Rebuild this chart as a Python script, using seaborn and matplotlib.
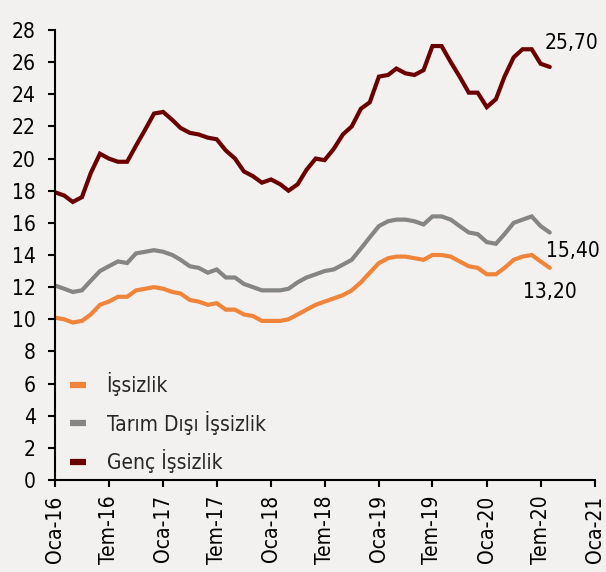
import pandas as pd
import matplotlib
matplotlib.use("Agg")
import matplotlib.pyplot as plt
import seaborn as sns

# ----------------------------
# Data (monthly, Jan 2016 - Aug 2020)
# ----------------------------
start_month = "2016-01-01"

issizlik = [10.1, 10.0, 9.8, 9.9, 10.3, 10.9, 11.1, 11.4, 11.4, 11.8, 11.9, 12.0,
            11.9, 11.7, 11.6, 11.2, 11.1, 10.9, 11.0, 10.6, 10.6, 10.3, 10.2, 9.9,
            9.9, 9.9, 10.0, 10.3, 10.6, 10.9, 11.1, 11.3, 11.5, 11.8, 12.3, 12.9,
            13.5, 13.8, 13.9, 13.9, 13.8, 13.7, 14.0, 14.0, 13.9, 13.6, 13.3, 13.2,
            12.8, 12.8, 13.2, 13.7, 13.9, 14.0, 13.6, 13.2]

tarim_disi = [12.1, 11.9, 11.7, 11.8, 12.4, 13.0, 13.3, 13.6, 13.5, 14.1, 14.2, 14.3,
              14.2, 14.0, 13.7, 13.3, 13.2, 12.9, 13.1, 12.6, 12.6, 12.2, 12.0, 11.8,
              11.8, 11.8, 11.9, 12.3, 12.6, 12.8, 13.0, 13.1, 13.4, 13.7, 14.4, 15.1,
              15.8, 16.1, 16.2, 16.2, 16.1, 15.9, 16.4, 16.4, 16.2, 15.8, 15.4, 15.3,
              14.8, 14.7, 15.3, 16.0, 16.2, 16.4, 15.8, 15.4]

genc = [17.9, 17.7, 17.3, 17.6, 19.1, 20.3, 20.0, 19.8, 19.8, 20.8, 21.8, 22.8,
        22.9, 22.4, 21.9, 21.6, 21.5, 21.3, 21.2, 20.5, 20.0, 19.2, 18.9, 18.5,
        18.7, 18.4, 18.0, 18.4, 19.3, 20.0, 19.9, 20.6, 21.5, 22.0, 23.1, 23.5,
        25.1, 25.2, 25.6, 25.3, 25.2, 25.5, 27.0, 27.0, 26.0, 25.1, 24.1, 24.1,
        23.2, 23.7, 25.1, 26.3, 26.8, 26.8, 25.9, 25.7]

series_names = ["İşsizlik", "Tarım Dışı İşsizlik", "Genç İşsizlik"]
colors = ["#f0843a", "#858585", "#6b0000"]

tick_labels = ["Oca-16", "Tem-16", "Oca-17", "Tem-17", "Oca-18", "Tem-18",
               "Oca-19", "Tem-19", "Oca-20", "Tem-20", "Oca-21"]

# ----------------------------
# Build long table
# ----------------------------
months = pd.date_range(start_month, periods=len(issizlik), freq="MS")
frames = []
for name, vals in zip(series_names, [issizlik, tarim_disi, genc]):
    frames.append(pd.DataFrame({"tarih": months, "oran": vals, "seri": name}))
df = pd.concat(frames, ignore_index=True)

# ----------------------------
# Plot
# ----------------------------
sns.set_style("ticks")
bg = "#f2f1ef"
plt.rcParams["font.family"] = ["DejaVu Sans"]
plt.rcParams["font.stretch"] = "condensed"
plt.rcParams["font.size"] = 15

fig, ax = plt.subplots(figsize=(6.06, 5.72), dpi=100)
fig.patch.set_facecolor(bg)
ax.set_facecolor(bg)
fig.subplots_adjust(left=0.0908, right=0.9818, bottom=0.1608, top=0.9476)

sns.lineplot(data=df, x="tarih", y="oran", hue="seri", hue_order=series_names,
             palette=colors, linewidth=3, ax=ax)
for line in ax.get_lines():
    line.set_solid_joinstyle("miter")

# value labels at the last point
last = months[-1]
for vals, off, ha, va in [(genc, (-4, 10), "left", "bottom"),
                          (tarim_disi, (-3, -6), "left", "top"),
                          (issizlik, (0, -10), "center", "top")]:
    ax.annotate(f"{vals[-1]:.2f}".replace(".", ","), xy=(last, vals[-1]),
                xytext=off, textcoords="offset points", ha=ha, va=va,
                fontsize=15, color="black")

# axes
tick_dates = pd.date_range(start_month, periods=len(tick_labels), freq="6MS")
ax.set_xlim(tick_dates[0], tick_dates[-1])
ax.set_xticks(tick_dates)
ax.set_xticklabels(tick_labels, rotation=90)
ax.set_ylim(0, 28)
ax.set_yticks(range(0, 29, 2))
ax.set_xlabel("")
ax.set_ylabel("")
sns.despine(ax=ax)
for s in ["left", "bottom"]:
    ax.spines[s].set_linewidth(1.5)
    ax.spines[s].set_color("black")
ax.tick_params(axis="both", length=5, width=1.5, colors="black", labelsize=15)
ax.tick_params(axis="y", pad=9)
ax.tick_params(axis="x", pad=6)

# legend
handles, labels = ax.get_legend_handles_labels()
leg = ax.legend(handles, labels, loc="upper left", bbox_to_anchor=(0.028, 0.24),
                frameon=False, fontsize=15, handlelength=0.75, handletextpad=1.0,
                labelspacing=0.7, borderpad=0, borderaxespad=0)
for line in leg.get_lines():
    line.set_linewidth(4.5)
    line.set_solid_capstyle("butt")

plt.savefig("out.png", dpi=100, facecolor=bg)
